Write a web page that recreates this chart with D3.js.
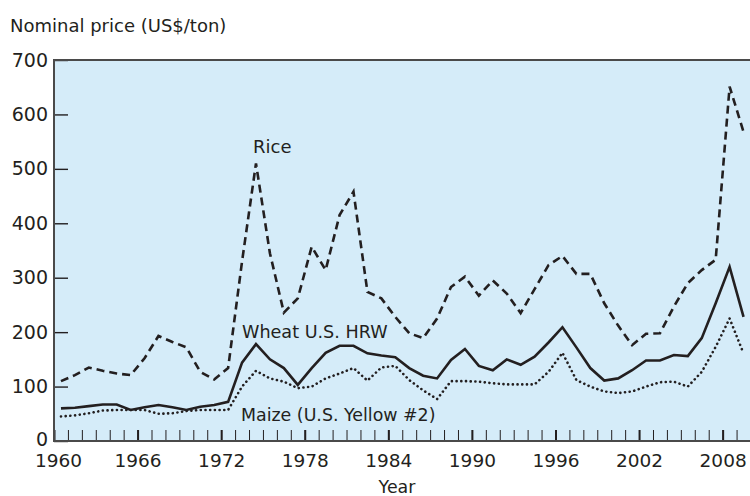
<!DOCTYPE html>
<html><head><meta charset="utf-8">
<script src="https://cdn.jsdelivr.net/npm/d3@7"></script>
<style>body{margin:0;background:#fff;} svg{display:block;font-family:"DejaVu Sans",sans-serif;}</style>
</head><body><svg width="750" height="496"></svg>
<script>
const years = d3.range(1960, 2010);
const rice = [110,121,135,129,124,121,152,193,182,172,127,113,134,330,510,345,236,262,357,314,415,458,274,262,228,198,189,225,283,302,267,295,271,235,279,323,340,307,307,253,212,176,197,198,247,290,314,333,651,568];
const wheat = [60,61,64,67,67,57,62,66,62,57,63,66,72,144,178,150,134,103,134,162,175,175,161,157,154,134,120,115,149,169,138,130,150,140,155,181,209,172,134,111,115,130,148,148,158,156,189,253,320,228];
const maize = [45,47,51,56,57,57,57,50,51,55,57,57,57,100,129,115,109,97,100,115,124,134,111,135,138,112,93,77,110,110,109,106,104,104,104,127,162,112,100,91,88,91,100,108,109,100,127,173,225,161];
const yTicks = [0,100,200,300,400,500,600,700];
const xTickLabels = [1960,1966,1972,1978,1984,1990,1996,2002,2008];
const minorYears = d3.range(1961, 2010);
const seriesNames = ["Rice","Wheat U.S. HRW","Maize (U.S. Yellow #2)"];

const svg = d3.select("svg");
const x = d3.scaleLinear().domain([1960, 2010]).range([54, 750.5]);
const y = d3.scaleLinear().domain([0, 700]).range([441, 60]);
const ink = "#231f20";
const axisCol = "#4a4a4a";

svg.append("rect").attr("x", x(1960)).attr("y", y(700))
  .attr("width", 750 - x(1960)).attr("height", y(0) - y(700)).attr("fill", "#d5ecf9");

// y axis
const yAx = svg.append("g").attr("transform", `translate(${x(1960)},0)`)
  .call(d3.axisLeft(y).tickValues(yTicks).tickSize(-14).tickPadding(6).tickSizeOuter(0));
yAx.select(".domain").remove();
yAx.selectAll(".tick line").attr("stroke", ink).attr("stroke-width", 1.4);
yAx.selectAll(".tick text").attr("fill", ink).style("font-size", "19px")
  .style("font-family", "DejaVu Sans").attr("dy", d => d === 0 ? "0.25em" : "0.32em");

// x axis minor
const xMin = svg.append("g").attr("transform", `translate(0,${y(0)})`)
  .call(d3.axisBottom(x).tickValues(minorYears).tickSize(-11).tickFormat(""));
xMin.select(".domain").remove();
xMin.selectAll(".tick line").attr("stroke", ink).attr("stroke-width", 1);
// x axis major
const xMaj = svg.append("g").attr("transform", `translate(0,${y(0)})`)
  .call(d3.axisBottom(x).tickValues(xTickLabels).tickSize(-11).tickPadding(13).tickFormat(d3.format("d")));
xMaj.select(".domain").remove();
xMaj.selectAll(".tick line").attr("stroke", ink).attr("stroke-width", 2);
xMaj.selectAll(".tick text").attr("fill", ink).style("font-size", "18.5px")
  .style("font-family", "DejaVu Sans").attr("dx", d => d === 1960 ? 4 : 0);

// frame lines
svg.append("line").attr("x1", x(1960)).attr("x2", 750).attr("y1", y(700)).attr("y2", y(700))
  .attr("stroke", axisCol).attr("stroke-width", 2);
svg.append("line").attr("x1", x(1960)).attr("x2", 750).attr("y1", y(0)).attr("y2", y(0))
  .attr("stroke", axisCol).attr("stroke-width", 2);
svg.append("line").attr("x1", x(1960)).attr("x2", x(1960)).attr("y1", y(700) - 1).attr("y2", y(0) + 1)
  .attr("stroke", axisCol).attr("stroke-width", 2);

// series
const line = d3.line().x((d, i) => x(years[i] + 0.5)).y(d => y(d));
svg.append("path").datum(maize).attr("d", line).attr("fill", "none").attr("stroke", ink)
  .attr("stroke-width", 2.6).attr("stroke-linecap", "round").attr("stroke-dasharray", "0.1,4.6");
svg.append("path").datum(wheat).attr("d", line).attr("fill", "none").attr("stroke", ink)
  .attr("stroke-width", 2.6).attr("stroke-linejoin", "miter");
svg.append("path").datum(rice).attr("d", line).attr("fill", "none").attr("stroke", ink)
  .attr("stroke-width", 2.6).attr("stroke-dasharray", "8,5");

// labels
const lab = (t, xx, yy, fs, anchor) => svg.append("text").attr("x", xx).attr("y", yy)
  .attr("fill", ink).style("font-size", fs + "px").attr("text-anchor", anchor || "start").text(t);
lab("Nominal price (US$/ton)", 10, 32, 18);
lab(seriesNames[0], 253, 153, 18);
lab(seriesNames[1], 242, 338, 17.6);
lab(seriesNames[2], 241, 421, 17.4);
lab("Year", 397, 493, 17.4, "middle");
</script></body></html>
